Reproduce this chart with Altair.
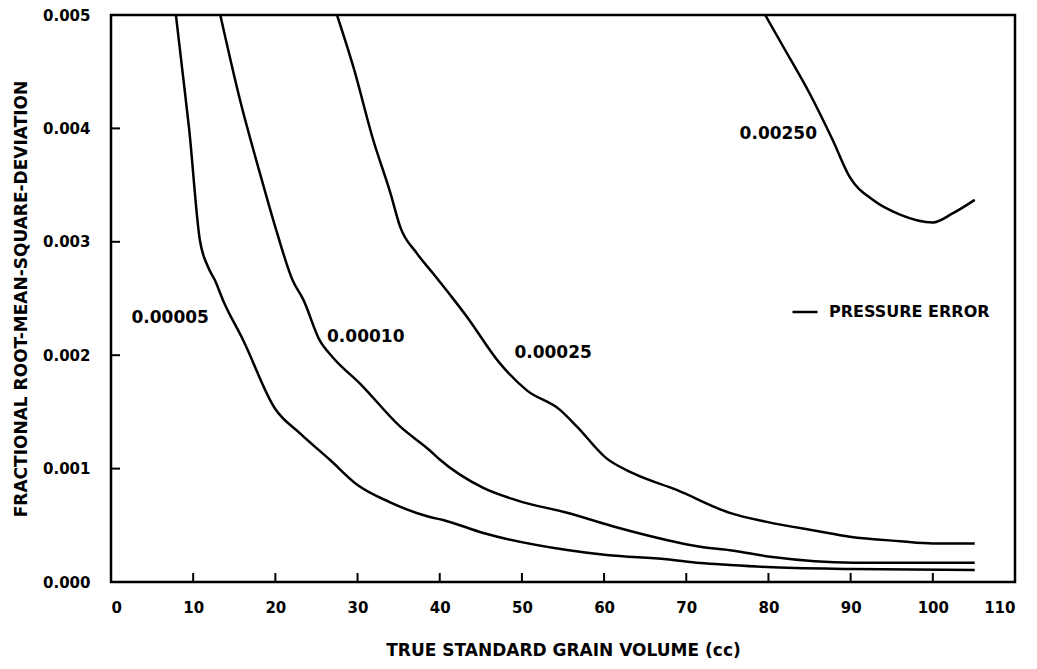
import altair as alt
import pandas as pd

# --- data ---
c1_x = [7.9, 8.7, 9.5, 10.8, 11.8, 12.65, 13.6, 16.1, 19.95, 23.0, 26.6, 30.0, 33.9, 38.8, 40.4, 45.3, 55.5, 60.3, 67.6, 71.7, 75.3, 79.8, 90.0, 105.1]
c1_y = [0.005, 0.0045, 0.004, 0.00302, 0.00278, 0.00266, 0.00249, 0.00213, 0.00153, 0.00131, 0.00108, 0.000855, 0.000705, 0.000573, 0.000547, 0.000432, 0.000282, 0.000238, 0.0002, 0.000167, 0.00015, 0.000132, 0.000115, 0.000106]

c2_x = [13.3, 15.7, 18.1, 20.2, 22.1, 23.4, 25.4, 27.0, 30.3, 35.2, 38.8, 40.0, 45.3, 49.4, 55.5, 61.6, 67.6, 71.7, 75.3, 80.5, 90.3, 105.1]
c2_y = [0.005, 0.00425, 0.00361, 0.00308, 0.00266, 0.00249, 0.00213, 0.00198, 0.00175, 0.00137, 0.00116, 0.00108, 0.00083, 0.00072, 0.00061, 0.00048, 0.00037, 0.00031, 0.00028, 0.00022, 0.00017, 0.00017]

c3_x = [27.5, 29.5, 31.9, 34.0, 35.2, 37.2, 39.2, 41.5, 43.3, 47.3, 50.6, 54.6, 56.7, 60.3, 63.5, 68.9, 75.3, 79.8, 85.9, 89.9, 96.0, 100.0, 105.1]
c3_y = [0.005, 0.00454, 0.0039, 0.00343, 0.00313, 0.0029, 0.00272, 0.00251, 0.00234, 0.00193, 0.00169, 0.00152, 0.00137, 0.00109, 0.00096, 0.00081, 0.00061, 0.00053, 0.00045, 0.0004, 0.00036, 0.00034, 0.00034]

c4_x = [79.6, 81.8, 85.0, 87.8, 89.9, 92.7, 96.0, 100.0, 102.4, 105.1]
c4_y = [0.005, 0.00472, 0.00431, 0.0039, 0.00357, 0.00337, 0.00324, 0.00317, 0.00325, 0.00337]

levels = ["0.00005", "0.00010", "0.00025", "0.00250"]
label_x = [7.2, 31.0, 53.8, 81.2]
label_y = [0.00233, 0.00216, 0.00202, 0.00395]

x_ticks = [10, 20, 30, 40, 50, 60, 70, 80, 90, 100]
y_ticks = [0.001, 0.002, 0.003, 0.004]

series_name = "PRESSURE ERROR"
FONT = "DejaVu Sans"

rows = []
for lvl, xs, ys in zip(levels, [c1_x, c2_x, c3_x, c4_x], [c1_y, c2_y, c3_y, c4_y]):
    for i, (a, b) in enumerate(zip(xs, ys)):
        rows.append({"level": lvl, "x": a, "y": b, "order": i, "kind": series_name})
lines_df = pd.DataFrame(rows)
labels_df = pd.DataFrame({"x": label_x, "y": label_y, "text": levels})
xt_df = pd.DataFrame({"t": x_ticks})
yt_df = pd.DataFrame({"t": y_ticks})

W, H = 904, 567

xscale = alt.Scale(domain=[0, 110], nice=False)
yscale = alt.Scale(domain=[0, 0.005], nice=False)

xaxis = alt.Axis(
    title="TRUE STANDARD GRAIN VOLUME (cc)",
    values=list(range(0, 111, 10)), format="d",
    ticks=False, domain=False, grid=False,
    labelPadding=18, labelFontSize=15, labelFont=FONT, labelFontWeight="bold",
    labelColor="black",
    titleFont=FONT, titleFontSize=17, titleFontWeight="bold", titleColor="black",
    titleY=68, titleBaseline="middle",
)
yaxis = alt.Axis(
    title="FRACTIONAL ROOT-MEAN-SQUARE-DEVIATION",
    values=[0, 0.001, 0.002, 0.003, 0.004, 0.005], format=".3f",
    ticks=False, domain=False, grid=False,
    labelPadding=21, labelFontSize=15, labelFont=FONT, labelFontWeight="bold",
    labelColor="black",
    titleFont=FONT, titleFontSize=17, titleFontWeight="bold", titleColor="black",
    titleX=-90, titleBaseline="middle",
)

lines = alt.Chart(lines_df).mark_line(strokeWidth=2.5, clip=True, interpolate="monotone").encode(
    x=alt.X("x:Q", scale=xscale, axis=xaxis),
    y=alt.Y("y:Q", scale=yscale, axis=yaxis),
    detail="level:N",
    order="order:Q",
    color=alt.Color(
        "kind:N",
        scale=alt.Scale(range=["black"]),
        legend=alt.Legend(
            title=None, orient="none", legendX=680, legendY=283,
            symbolType="stroke", symbolSize=625, symbolStrokeWidth=2.5,
            symbolStrokeColor="black", labelLimit=400,
            labelFont=FONT, labelFontSize=16, labelFontWeight="bold",
            labelColor="black", labelOffset=10, padding=0,
        ),
    ),
)

texts = alt.Chart(labels_df).mark_text(
    font=FONT, fontSize=17, fontWeight="bold", color="black",
    align="center", baseline="middle",
).encode(x=alt.X("x:Q", scale=xscale), y=alt.Y("y:Q", scale=yscale), text="text:N")

xt = alt.Chart(xt_df).mark_rule(color="black", strokeWidth=2).encode(
    x=alt.X("t:Q", scale=xscale), y=alt.value(H), y2=alt.value(H - 9)
)
yt = alt.Chart(yt_df).mark_rule(color="black", strokeWidth=2).encode(
    y=alt.Y("t:Q", scale=yscale), x=alt.value(0), x2=alt.value(9)
)

chart = alt.layer(lines, texts, xt, yt).properties(
    width=W, height=H,
    autosize=alt.AutoSizeParams(type="none"),
    padding={"left": 103, "top": 7, "right": 14, "bottom": 76},
    background="white",
).configure_view(stroke="black", strokeWidth=2.5)

chart.save("out.html", embed_options={"renderer": "svg", "actions": False})
